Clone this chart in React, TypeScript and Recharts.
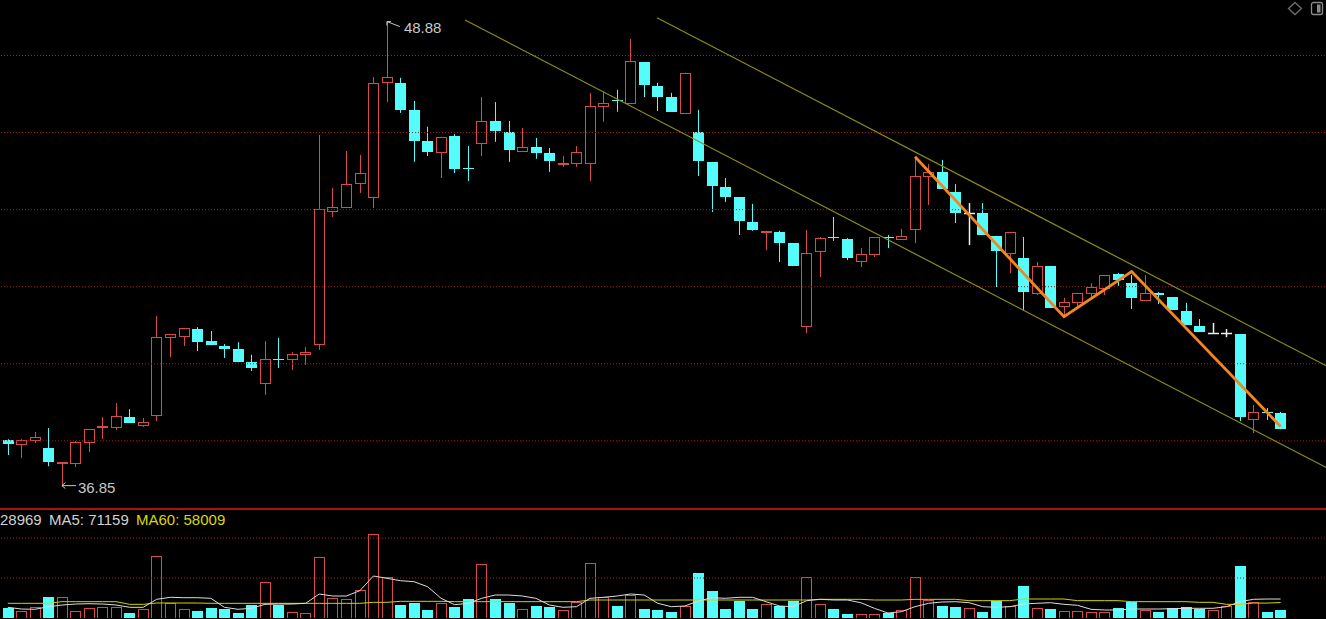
import React from 'react';
import { ComposedChart, Bar, Line, XAxis, YAxis, ReferenceLine, ReferenceDot } from 'recharts';

// ---------- data ----------
const opens = [
  38.02, 37.91, 38.02, 37.81, 37.42, 37.42, 37.97, 38.36, 38.36, 38.62,
  38.41, 38.67, 40.69, 40.72, 40.90, 40.59, 40.46, 40.38, 40.04, 39.50,
  40.12, 40.12, 40.25, 40.51, 43.96, 44.07, 44.69, 44.33, 47.31, 47.29,
  46.59, 45.78, 45.50, 45.91, 45.08, 45.73, 46.30, 46.02, 45.52, 45.63,
  45.47, 45.18, 45.21, 45.21, 46.69, 46.84, 46.77, 47.83, 47.21, 46.92,
  46.51, 46.02, 45.24, 44.59, 44.33, 43.68, 43.42, 43.42, 43.13, 40.98,
  42.93, 43.29, 43.24, 42.67, 42.85, 43.29, 43.24, 43.50, 44.87, 44.98,
  44.46, 43.91, 43.91, 43.32, 42.87, 42.74, 41.84, 42.54, 41.50, 41.60,
  41.84, 41.97, 42.33, 42.09, 41.65, 41.84, 41.73, 41.37, 40.98, 40.80,
  40.80, 40.77, 38.56, 38.75, 38.72,
];
const highs = [
  38.04, 38.04, 38.23, 38.33, 37.45, 37.99, 38.30, 38.62, 38.98, 38.82,
  38.59, 41.24, 40.77, 40.93, 40.95, 40.85, 40.51, 40.56, 40.23, 40.59,
  40.67, 40.30, 40.43, 45.94, 44.56, 45.52, 45.42, 47.44, 48.88, 47.42,
  46.82, 46.15, 45.89, 45.96, 45.65, 46.92, 46.79, 46.30, 46.12, 45.86,
  45.60, 45.39, 45.65, 47.03, 47.05, 47.11, 48.43, 47.83, 47.29, 47.03,
  47.55, 46.59, 45.24, 44.82, 44.33, 44.15, 43.45, 43.45, 43.13, 43.47,
  43.29, 43.81, 43.26, 43.00, 43.29, 43.34, 43.50, 45.37, 45.18, 45.29,
  44.66, 44.17, 44.17, 43.32, 43.42, 43.29, 42.64, 42.54, 41.71, 41.84,
  42.09, 42.30, 42.36, 42.30, 42.30, 41.86, 41.73, 41.58, 41.16, 41.06,
  40.90, 40.77, 38.93, 38.85, 38.75,
];
const lows = [
  37.63, 37.55, 37.94, 37.34, 36.85, 37.32, 37.71, 38.04, 38.28, 38.46,
  38.36, 38.51, 40.17, 40.46, 40.33, 40.48, 40.15, 40.04, 39.81, 39.19,
  39.89, 39.84, 39.97, 40.36, 43.81, 44.04, 44.43, 44.04, 46.79, 46.51,
  45.24, 45.39, 44.82, 44.95, 44.74, 45.39, 45.76, 45.24, 45.52, 45.32,
  44.98, 45.11, 45.11, 44.74, 46.28, 46.54, 46.77, 46.92, 46.56, 46.54,
  46.51, 44.87, 43.94, 44.20, 43.34, 43.45, 42.95, 42.64, 42.54, 40.80,
  42.25, 43.19, 42.69, 42.51, 42.77, 43.00, 43.24, 43.13, 44.12, 44.54,
  43.65, 43.08, 43.34, 41.99, 42.35, 41.39, 41.78, 41.45, 41.26, 41.47,
  41.73, 41.78, 42.02, 41.42, 41.65, 41.55, 41.39, 41.00, 40.82, 40.80,
  40.69, 38.51, 38.20, 38.54, 38.30,
];
const closes = [
  37.91, 38.02, 38.10, 37.45, 37.45, 37.97, 38.30, 38.38, 38.64, 38.46,
  38.49, 40.69, 40.77, 40.93, 40.56, 40.48, 40.38, 40.04, 39.89, 40.12,
  40.09, 40.25, 40.30, 44.02, 44.07, 44.67, 44.95, 47.29, 47.44, 46.59,
  45.78, 45.50, 45.89, 45.06, 45.06, 46.30, 46.04, 45.55, 45.63, 45.47,
  45.26, 45.21, 45.50, 46.69, 46.77, 46.82, 47.86, 47.24, 46.92, 46.54,
  47.55, 45.26, 44.61, 44.33, 43.71, 43.47, 43.45, 43.13, 42.54, 42.87,
  43.26, 43.26, 42.74, 42.85, 43.29, 43.26, 43.32, 44.87, 44.98, 44.54,
  43.91, 43.91, 43.34, 42.93, 43.42, 41.86, 42.54, 41.45, 41.60, 41.84,
  41.99, 42.30, 42.17, 41.71, 41.84, 41.78, 41.39, 41.00, 40.82, 40.80,
  40.80, 38.62, 38.75, 38.72, 38.30,
];
const volumes = [
  36400, 27400, 42400, 80000, 80000, 27400, 38600, 42400, 40000, 20000,
  32600, 233600, 55000, 33750, 26250, 36400, 33750, 20000, 48750, 136000,
  48750, 23600, 20000, 230000, 76000, 71250, 105000, 313900, 155000, 48750,
  57400, 30000, 57400, 42400, 71250, 201000, 71250, 57400, 32600, 45000,
  40000, 30000, 58750, 207500, 77500, 45000, 86250, 33750, 30000, 23750,
  46250, 170000, 101250, 33750, 63750, 33750, 51250, 45000, 63750, 155000,
  51250, 33750, 13750, 13750, 13750, 17500, 30000, 155000, 67500, 45000,
  40000, 38750, 21250, 63750, 45000, 121250, 38750, 33750, 27500, 27500,
  23750, 23750, 38750, 58750, 30000, 23750, 36250, 42500, 33750, 30000,
  46250, 196250, 58750, 23750, 28969,
];
const volMa5 = [
  40125, 33750, 32625, 42375, 48750, 52500, 53625, 52500, 48750, 40125,
  40125, 70125, 77625, 76125, 76125, 73875, 40125, 32625, 36375, 51375,
  52500, 52500, 55125, 90000, 82500, 82500, 102375, 157500, 148875, 139875,
  136125, 117375, 73875, 49875, 55125, 73875, 86250, 86250, 82500, 73875,
  48750, 40125, 42375, 73875, 77625, 82500, 90000, 86250, 55125, 42375,
  45000, 63750, 76125, 73875, 77625, 77625, 61125, 45000, 42375, 64875,
  70125, 67500, 67500, 57375, 36375, 18750, 23625, 42375, 55125, 60000,
  61125, 57375, 42375, 40125, 42375, 52500, 55125, 57375, 51375, 47625,
  32625, 30000, 30000, 33750, 33750, 33750, 34875, 36375, 36375, 36375,
  42375, 61125, 70125, 71250, 71159,
];
const volMa60 = [
  55000, 55000, 55000, 55000, 61250, 61250, 61250, 61250, 61250, 51250,
  51250, 56250, 56250, 56250, 56250, 55000, 55000, 55000, 55000, 55000,
  55000, 55000, 55000, 55000, 55000, 55000, 55000, 58750, 58750, 62500,
  62500, 62500, 62500, 61250, 61250, 61250, 61250, 61250, 61250, 61250,
  61250, 61250, 61250, 67500, 67500, 67500, 67500, 67500, 67500, 67500,
  67500, 67500, 67500, 67500, 67500, 67500, 67500, 67500, 67500, 67500,
  70000, 70000, 70000, 70000, 67500, 67500, 67500, 70000, 70000, 70000,
  70000, 65000, 65000, 65000, 65000, 71250, 71250, 71250, 71250, 65000,
  65000, 65000, 65000, 61250, 61250, 61250, 61250, 61250, 58750, 58750,
  51250, 51250, 56000, 56000, 58009,
];
const zigzagPoints = [
  { i: 67, p: 45.37 },
  { i: 78, p: 41.22 },
  { i: 83, p: 42.39 },
  { i: 94, p: 38.37 },
];
const channelLower = [{ x: 33.92, y: 48.92 }, { x: 97.5, y: 37.19 }];
const channelUpper = [{ x: 47.95, y: 48.98 }, { x: 97.5, y: 39.83 }];
const gridPrices = [38, 40, 42, 44, 46, 48];
const gridVolumes = [150000, 300000];
const priceDomain: [number, number] = [36.23, 49.44];
const volDomain: [number, number] = [0, 408750];
const SLOTS = 98;
const highMark = { i: 28, p: 48.88, label: '48.88' };
const lowMark = { i: 4, p: 36.85, label: '36.85' };
const titleVol = '28969';
const titleMa5 = 'MA5: 71159';
const titleMa60 = 'MA60: 58009';

// ---------- styles ----------
const W = 1326;
const MAIN_H = 509;
const VOL_TOP = 509;
const VOL_H = 109;
const UP = '#d84a4a';
const DOWN = '#54fcfc';
const DOJI = '#eeeeee';
const GRID = '#a81818';
const CHANNEL = '#8c8c1c';
const ZIGZAG = '#f5851e';
const FONT = '"Liberation Sans", Arial, sans-serif';
const MARGIN = { top: 0, right: -2, bottom: 0, left: 1 };

const zzMap: Record<number, number> = {};
zigzagPoints.forEach((z) => { zzMap[z.i] = z.p; });

const rows = Array.from({ length: SLOTS }, (_, i) => {
  const has = i < opens.length;
  return {
    i,
    o: has ? opens[i] : null,
    h: has ? highs[i] : null,
    l: has ? lows[i] : null,
    c: has ? closes[i] : null,
    range: has ? [lows[i], highs[i]] : null,
    vol: has ? volumes[i] : null,
    ma5: has ? volMa5[i] : null,
    ma60: has ? volMa60[i] : null,
    zz: zzMap[i] !== undefined ? zzMap[i] : null,
  };
});

function CandleShape(props: any) {
  const { x, y, width, height, payload } = props;
  if (!payload || payload.h == null || x == null || y == null) return <g />;
  const { o, h, l, c } = payload;
  const top = Math.min(y, y + height);
  const bot = Math.max(y, y + height);
  const py = (v: number) => top + ((h - v) / (h - l)) * (bot - top);
  const cx = Math.round(x + width / 2) + 0.5;
  const yh = py(h);
  const yl = py(l);
  const yo = py(o);
  const yc = py(c);
  if (c > o) {
    const bt = Math.round(yc) + 0.5;
    const bb = Math.max(Math.round(yo) + 0.5, bt + 1);
    return (
      <g>
        {yh < bt && <line x1={cx} x2={cx} y1={yh} y2={bt} stroke={UP} strokeWidth={1} />}
        {yl > bb && <line x1={cx} x2={cx} y1={bb} y2={yl} stroke={UP} strokeWidth={1} />}
        <rect x={cx - 5} y={bt} width={10} height={bb - bt} fill="#000" stroke={UP} strokeWidth={1} />
      </g>
    );
  }
  if (c < o) {
    const bt = Math.round(yo);
    const bb = Math.max(Math.round(yc), bt + 1);
    return (
      <g>
        <line x1={cx} x2={cx} y1={yh} y2={yl} stroke={DOWN} strokeWidth={1} />
        <rect x={cx - 5.5} y={bt} width={11} height={bb - bt} fill={DOWN} />
      </g>
    );
  }
  const ym = Math.round(yo) + 0.5;
  return (
    <g>
      <line x1={cx} x2={cx} y1={yh} y2={yl} stroke={DOJI} strokeWidth={1.5} />
      <line x1={cx - 5.5} x2={cx + 5.5} y1={ym} y2={ym} stroke={DOJI} strokeWidth={1.5} />
    </g>
  );
}

function VolShape(props: any) {
  const { x, y, width, height, payload } = props;
  if (!payload || payload.vol == null || x == null || y == null) return <g />;
  const cx = Math.round(x + width / 2) + 0.5;
  const top = Math.round(Math.min(y, y + height));
  const bot = Math.round(Math.max(y, y + height));
  if (payload.c < payload.o) {
    return <rect x={cx - 5.5} y={top} width={11} height={Math.max(bot - top, 1)} fill={DOWN} />;
  }
  return (
    <rect x={cx - 5} y={top + 0.5} width={10} height={Math.max(bot - top + 2, 1)} fill="#000" stroke={UP} strokeWidth={1} />
  );
}

function HighMarkShape(props: any) {
  const { cx, cy } = props;
  if (cx == null || cy == null) return <g />;
  return (
    <g>
      <path d={`M${cx + 4},${cy} L${cx},${cy} L${cx},${cy + 4}`} stroke="#c8c8c8" fill="none" strokeWidth={1} />
      <line x1={cx} y1={cy} x2={cx + 13} y2={cy + 5} stroke="#c8c8c8" strokeWidth={1} />
      <text x={cx + 17} y={cy + 11.5} fill="#c8c8c8" fontSize={15} fontFamily={FONT}>{highMark.label}</text>
    </g>
  );
}

function LowMarkShape(props: any) {
  const { cx, cy } = props;
  if (cx == null || cy == null) return <g />;
  return (
    <g>
      <line x1={cx} y1={cy + 0.5} x2={cx + 14} y2={cy + 0.5} stroke="#c8c8c8" strokeWidth={1} />
      <path d={`M${cx + 3.5},${cy - 2.5} L${cx},${cy + 0.5} L${cx + 3.5},${cy + 3.5}`} stroke="#c8c8c8" fill="none" strokeWidth={1} />
      <text x={cx + 16} y={cy + 7.5} fill="#c8c8c8" fontSize={15} fontFamily={FONT}>{lowMark.label}</text>
    </g>
  );
}

export default function App() {
  return (
    <div style={{ position: 'absolute', left: 0, top: 0, width: W, height: 619, background: '#000', overflow: 'hidden' }}>
      <div style={{ position: 'absolute', left: 0, top: 0 }}>
        <ComposedChart width={W} height={MAIN_H} data={rows} margin={MARGIN}>
          <XAxis xAxisId="cat" dataKey="i" type="category" hide />
          <XAxis xAxisId="num" type="number" domain={[-0.5, SLOTS - 0.5]} hide allowDataOverflow />
          <YAxis yAxisId="p" type="number" domain={priceDomain} hide allowDataOverflow />
          {gridPrices.map((g) => (
            <ReferenceLine key={g} xAxisId="cat" yAxisId="p" y={g} stroke={GRID} strokeDasharray="1 2" strokeWidth={1} />
          ))}
          <ReferenceLine xAxisId="num" yAxisId="p" segment={channelLower} stroke={CHANNEL} strokeWidth={1.2} ifOverflow="visible" />
          <ReferenceLine xAxisId="num" yAxisId="p" segment={channelUpper} stroke={CHANNEL} strokeWidth={1.2} ifOverflow="visible" />
          <Bar xAxisId="cat" yAxisId="p" dataKey="range" barSize={11} shape={CandleShape} isAnimationActive={false} />
          <Line xAxisId="cat" yAxisId="p" dataKey="zz" stroke={ZIGZAG} strokeWidth={2.8} dot={false} activeDot={false} connectNulls isAnimationActive={false} />
          <ReferenceDot xAxisId="cat" yAxisId="p" x={highMark.i} y={highMark.p} r={2} shape={HighMarkShape} ifOverflow="visible" />
          <ReferenceDot xAxisId="cat" yAxisId="p" x={lowMark.i} y={lowMark.p} r={2} shape={LowMarkShape} ifOverflow="visible" />
        </ComposedChart>
      </div>
      <div style={{ position: 'absolute', left: 0, top: 508, width: W, height: 2, background: '#a81414' }} />
      <div style={{ position: 'absolute', left: 0, top: VOL_TOP }}>
        <ComposedChart width={W} height={VOL_H} data={rows} margin={MARGIN}>
          <XAxis xAxisId="cat" dataKey="i" type="category" hide />
          <YAxis yAxisId="v" type="number" domain={volDomain} hide allowDataOverflow />
          {gridVolumes.map((g) => (
            <ReferenceLine key={g} xAxisId="cat" yAxisId="v" y={g} stroke={GRID} strokeDasharray="1 2" strokeWidth={1} />
          ))}
          <Bar xAxisId="cat" yAxisId="v" dataKey="vol" barSize={11} shape={VolShape} isAnimationActive={false} />
          <Line xAxisId="cat" yAxisId="v" dataKey="ma60" stroke="#d2d200" strokeWidth={1} dot={false} activeDot={false} isAnimationActive={false} />
          <Line xAxisId="cat" yAxisId="v" dataKey="ma5" stroke="#dcdcdc" strokeWidth={1} dot={false} activeDot={false} isAnimationActive={false} />
        </ComposedChart>
      </div>
      <svg width={W} height={619} style={{ position: 'absolute', left: 0, top: 0, pointerEvents: 'none' }}>
        <text x={0} y={525} fill="#d0d0d0" fontSize={15} fontFamily={FONT}>{titleVol}</text>
        <text x={49} y={525} fill="#d0d0d0" fontSize={15} fontFamily={FONT}>{titleMa5}</text>
        <text x={136} y={525} fill="#d8d800" fontSize={15} fontFamily={FONT}>{titleMa60}</text>
        <path d="M1295,2.5 L1301.5,8.5 L1295,14.5 L1288.5,8.5 Z" fill="none" stroke="#6e6e6e" strokeWidth={1.3} />
        <rect x={1311.5} y={2.5} width={11} height={12} rx={2} fill="none" stroke="#8a8a8a" strokeWidth={1.3} />
        <rect x={1317} y={4.5} width={3.5} height={8} fill="#8a8a8a" />
      </svg>
    </div>
  );
}
